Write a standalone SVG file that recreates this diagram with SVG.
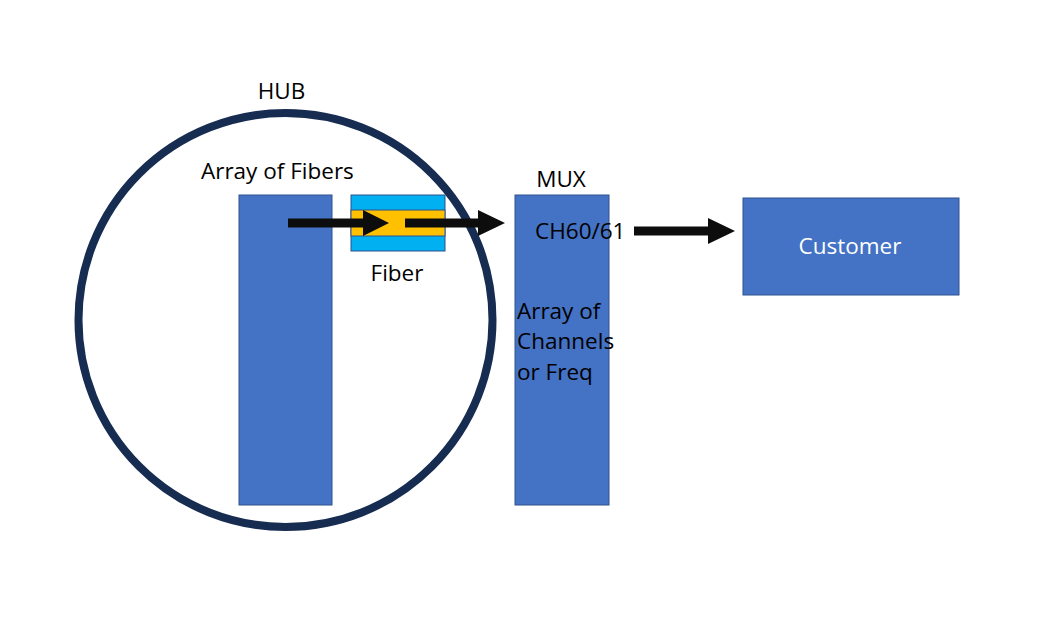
<svg xmlns="http://www.w3.org/2000/svg" width="1039" height="632" viewBox="0 0 1039 632">
<style>
.box{fill:#4472C4;stroke:#2F528F;stroke-width:1}
.t{font-family:"Open Sans","Noto Sans",sans-serif;font-size:22.5px;fill:#000}
.arrow{fill:#0D0D0D}
</style>
<rect width="1039" height="632" fill="#fff"/>
<g id="hub">
<circle cx="285.5" cy="320" r="207" fill="none" stroke="#172C51" stroke-width="8"/>
<text class="t" x="281.5" y="99" text-anchor="middle">HUB</text>
</g>
<g id="array-of-fibers">
<rect class="box" x="239" y="195" width="93" height="310"/>
<text class="t" x="201" y="179">Array of Fibers</text>
</g>
<g id="fiber">
<rect x="351" y="195" width="94" height="56" fill="#00B0F0" stroke="#2F528F" stroke-width="1"/>
<rect x="351" y="210" width="94" height="26" fill="#FFC000" stroke="#2F528F" stroke-width="1"/>
<text class="t" x="397" y="281" text-anchor="middle">Fiber</text>
</g>
<g id="mux">
<rect class="box" x="515" y="195" width="94" height="310"/>
<text class="t" x="561" y="187" text-anchor="middle">MUX</text>
<text class="t" x="535" y="239">CH60/61</text>
<text class="t" x="517" y="319">Array of</text>
<text class="t" x="517" y="349">Channels</text>
<text class="t" x="517" y="380">or Freq</text>
</g>
<g id="customer">
<rect class="box" x="743" y="198" width="216" height="97"/>
<text class="t" x="850" y="254" text-anchor="middle" style="fill:#fff">Customer</text>
</g>
<g id="connectors">
<polygon class="arrow" points="288,218.5 363,218.5 363,210 389,223 363,236 363,227.5 288,227.5"/>
<polygon class="arrow" points="405,218.5 478,218.5 478,210 505,223 478,236 478,227.5 405,227.5"/>
<polygon class="arrow" points="634,226.5 708,226.5 708,218 735,231 708,244 708,235.5 634,235.5"/>
</g>
</svg>
